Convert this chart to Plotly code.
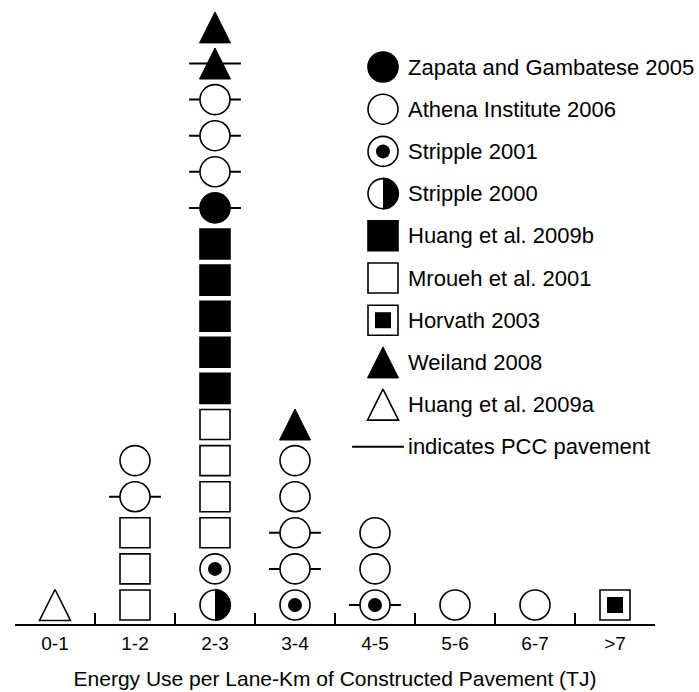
import numpy as np
import plotly.graph_objects as go

# ---------------- data ----------------
categories = ["0-1", "1-2", "2-3", "3-4", "4-5", "5-6", "6-7", ">7"]

source_codes = ["ZAP05", "ATH06", "STR01", "STR00", "HU09B", "MR01", "HOR03", "WEI08", "HU09A"]
source_labels = ["Zapata and Gambatese 2005", "Athena Institute 2006", "Stripple 2001",
                 "Stripple 2000", "Huang et al. 2009b", "Mroueh et al. 2001",
                 "Horvath 2003", "Weiland 2008", "Huang et al. 2009a"]
pcc_label = "indicates PCC pavement"
x_title = "Energy Use per Lane-Km of Constructed Pavement (TJ)"

# stacks per energy bin, bottom to top (one study result per marker); 1 = PCC pavement
stack_0_1 = ["HU09A"]
pcc_0_1 = [0]
stack_1_2 = ["MR01", "MR01", "MR01", "ATH06", "ATH06"]
pcc_1_2 = [0, 0, 0, 1, 0]
stack_2_3 = ["STR00", "STR01", "MR01", "MR01", "MR01", "MR01", "HU09B", "HU09B", "HU09B",
             "HU09B", "HU09B", "ZAP05", "ATH06", "ATH06", "ATH06", "WEI08", "WEI08"]
pcc_2_3 = [0, 0, 0, 0, 0, 0, 0, 0, 0, 0, 0, 1, 1, 1, 1, 1, 0]
stack_3_4 = ["STR01", "ATH06", "ATH06", "ATH06", "ATH06", "WEI08"]
pcc_3_4 = [0, 1, 1, 0, 0, 0]
stack_4_5 = ["STR01", "ATH06", "ATH06"]
pcc_4_5 = [1, 0, 0]
stack_5_6 = ["ATH06"]
pcc_5_6 = [0]
stack_6_7 = ["ATH06"]
pcc_6_7 = [0]
stack_gt7 = ["HOR03"]
pcc_gt7 = [0]

stacks = [stack_0_1, stack_1_2, stack_2_3, stack_3_4, stack_4_5, stack_5_6, stack_6_7, stack_gt7]
pccs = [pcc_0_1, pcc_1_2, pcc_2_3, pcc_3_4, pcc_4_5, pcc_5_6, pcc_6_7, pcc_gt7]

# ---------------- geometry (layout only) ----------------
W, H = 699, 692
PL, PR, PT, PB = 15, 655, 8, 624          # plot area in px
XPU = (PR - PL) / len(categories)        # px per category
S = 36.1                                  # px per stack level
LEVEL0 = 605                              # px of bottom row centre
Y0 = -(PB - LEVEL0) / S
Y1 = (LEVEL0 - PT) / S


def px_to_x(px):
    return (px - PL) / XPU - 0.5


def py_to_y(py):
    return (LEVEL0 - py) / S


SZ = 30          # marker size
LW = 1.6         # outline width
TRI = 31         # triangle size

# collect positions per source
pos = {c: ([], []) for c in source_codes}
pcc_x, pcc_y = [], []
for i, (st, pc) in enumerate(zip(stacks, pccs)):
    for lev, (code, p) in enumerate(zip(st, pc)):
        pos[code][0].append(i)
        pos[code][1].append(lev)
        if p:
            pcc_x.append(i)
            pcc_y.append(lev)

# legend positions (px)
LEG_X = px_to_x(383)
LEG_TX = px_to_x(406)
leg_rows_px = [67 + 42.2 * k for k in range(len(source_codes) + 1)]
for k, code in enumerate(source_codes):
    pos[code][0].append(LEG_X)
    pos[code][1].append(py_to_y(leg_rows_px[k]))

fig = go.Figure()


def add(xs, ys, symbol, size, fill, lw=LW, lc="black"):
    fig.add_trace(go.Scatter(x=xs, y=ys, mode="markers", hoverinfo="skip",
                             marker=dict(symbol=symbol, size=size, color=fill,
                                         line=dict(color=lc, width=lw))))


# PCC lines (beneath symbols)
pcc_x.append(px_to_x(378))
pcc_y.append(py_to_y(leg_rows_px[-1]))
fig.add_trace(go.Scatter(x=pcc_x, y=pcc_y, mode="markers", hoverinfo="skip",
                         marker=dict(symbol="line-ew", size=37, color="black",
                                     line=dict(color="black", width=2))))

for code in source_codes:
    xs, ys = pos[code]
    if code == "ZAP05":
        add(xs, ys, "circle", SZ, "black")
    elif code == "ATH06":
        add(xs, ys, "circle", SZ, "white")
    elif code == "STR01":
        add(xs, ys, "circle", SZ, "white")
        add(xs, ys, "circle", 14, "black", lw=0)
    elif code == "STR00":
        add(xs, ys, "circle", SZ, "white")
        r = (SZ + LW) / 2
        th = np.linspace(-np.pi / 2, np.pi / 2, 40)
        for cx, cy in zip(xs, ys):
            fig.add_trace(go.Scatter(x=cx + r * np.cos(th) / XPU, y=cy + r * np.sin(th) / S,
                                     mode="lines", fill="toself", fillcolor="black",
                                     line=dict(color="black", width=0.5), hoverinfo="skip"))
    elif code == "HU09B":
        add(xs, ys, "square", SZ, "black")
    elif code == "MR01":
        add(xs, ys, "square", SZ, "white")
    elif code == "HOR03":
        add(xs, ys, "square", SZ, "white")
        add(xs, ys, "square", 16, "black", lw=0)
    elif code in ("WEI08", "HU09A"):
        # arrow-up has its tip at the marker position: shift so the triangle is centred
        ys2 = [y + (TRI / 2) / S for y in ys]
        add(xs, ys2, "arrow-up", TRI, "black" if code == "WEI08" else "white",
            lw=1 if code == "WEI08" else LW)

annotations = []
for k, lab in enumerate(source_labels + [pcc_label]):
    annotations.append(dict(x=LEG_TX, y=py_to_y(leg_rows_px[k]), xref="x", yref="y",
                            text=lab, showarrow=False, xanchor="left", yanchor="middle",
                            font=dict(size=22, color="black")))

fig.update_layout(
    template="none",
    width=W, height=H,
    margin=dict(l=PL, r=W - PR, t=PT, b=H - PB, pad=0),
    paper_bgcolor="white", plot_bgcolor="white",
    showlegend=False,
    font=dict(family="Liberation Sans, Arial, sans-serif", color="black"),
    annotations=annotations,
    xaxis=dict(range=[-0.5, len(categories) - 0.5], tickvals=list(range(len(categories))),
               ticktext=categories, ticks="", showgrid=False, zeroline=False,
               showline=True, linecolor="black", linewidth=2, automargin=False,
               tickfont=dict(size=19), ticklabelstandoff=1,
               title=dict(text=x_title, font=dict(size=21), standoff=19)),
    xaxis2=dict(range=[-0.5, len(categories) - 0.5], overlaying="x", anchor="y",
                tickvals=[i - 0.5 for i in range(len(categories) + 1)],
                ticks="inside", ticklen=11, tickwidth=2, tickcolor="black",
                showticklabels=False, showgrid=False, zeroline=False, showline=False,
                automargin=False),
    yaxis=dict(range=[Y0, Y1], visible=False, automargin=False),
)
# dummy trace for xaxis2
fig.add_trace(go.Scatter(x=[None], y=[None], xaxis="x2", yaxis="y", hoverinfo="skip"))

fig.write_html("out.html", config={"displayModeBar": False},
               post_script="document.body.style.margin='0';document.body.style.overflow='hidden';")
